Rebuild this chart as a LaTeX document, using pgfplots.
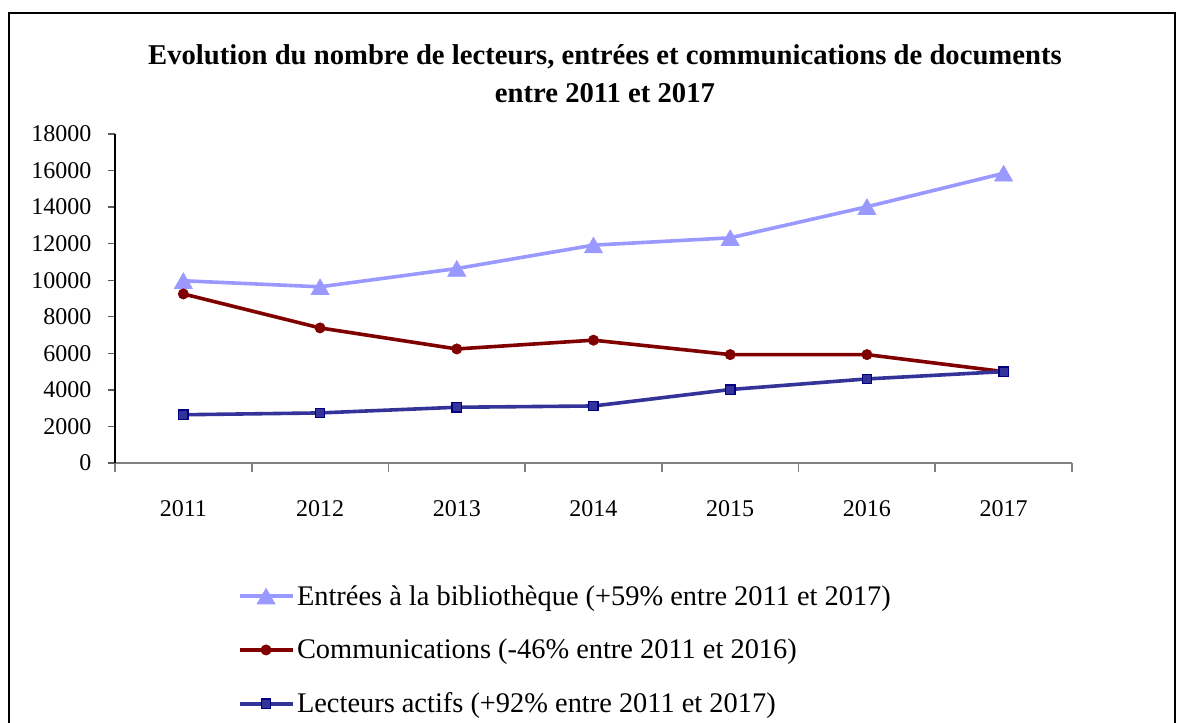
\documentclass[border=0pt]{standalone}
\usepackage{fontspec}
\setmainfont{Liberation Serif}
\usepackage{pgfplots}
\pgfplotsset{compat=1.18}
\definecolor{entrees}{HTML}{9999FF}
\definecolor{comm}{HTML}{800000}
\definecolor{lectline}{HTML}{333399}
\definecolor{lectedge}{HTML}{000080}
\definecolor{axgray}{HTML}{808080}
\begin{document}
\begin{tikzpicture}
\path[use as bounding box] (0pt,0pt) rectangle (889.5pt,541.5pt);
\draw[line width=1.5pt,black] (6.75pt,-2pt) -- (6.75pt,531.75pt) -- (881.25pt,531.75pt) -- (881.25pt,-2pt);
\begin{axis}[
  at={(86.25pt,194.25pt)}, anchor=south west,
  scale only axis, width=717.75pt, height=246.75pt,
  xmin=-0.5, xmax=6.5, ymin=0, ymax=18000,
  axis x line=bottom, axis y line=left,
  x axis line style={-, draw=axgray, line width=1.5pt},
  y axis line style={-, draw=black, line width=1pt},
  xtick={0,...,6},
  xticklabels={2011,2012,2013,2014,2015,2016,2017},
  major x tick style={draw=none},
  minor xtick={-0.5,0.5,...,6.5},
  minor x tick style={draw=axgray, line width=1.2pt},
  minor tick length=7pt,
  ytick={0,2000,...,18000},
  scaled y ticks=false,
  major y tick style={draw=axgray!70!black, line width=1pt},
  major tick length=5.25pt,
  tick align=outside,
  /pgf/number format/assume math mode=true,
  /pgf/number format/set thousands separator={},
  tick label style={font=\fontsize{18}{21}\selectfont, text=black},
  yticklabel style={xshift=-9pt},
  xticklabel style={yshift=-19pt},
  title={Evolution du nombre de lecteurs, entrées et communications de documents\\entre 2011 et 2017},
  title style={at={(0.512,1.16)}, anchor=center, align=center, font=\bfseries\fontsize{21.5}{28.5}\selectfont},
  legend style={at={(0.128,-0.363)}, anchor=north west, draw=none, fill=none,
    font=\fontsize{21.3}{24}\selectfont, row sep=20pt, inner sep=0pt, nodes={inner sep=2pt}},
  legend cell align=left,
  legend image code/.code={\draw[mark repeat=2,mark phase=2] plot coordinates {(0pt,0pt) (19.875pt,0pt) (39.75pt,0pt)};},
  clip=false,
]
\addplot[color=entrees, line width=2.7pt, mark=triangle*, mark size=7.8pt,
  mark options={fill=entrees, draw=entrees, line width=0.5pt, yshift=-1.9pt}]
  coordinates {(0,9970) (1,9640) (2,10640) (3,11920) (4,12320) (5,14020) (6,15850)};
\addlegendentry{Entrées à la bibliothèque (+59\% entre 2011 et 2017)}
\addplot[color=comm, line width=2.7pt, mark=*, mark size=3.9pt,
  mark options={fill=comm, draw=comm, line width=0.4pt}]
  coordinates {(0,9250) (1,7390) (2,6240) (3,6720) (4,5930) (5,5930) (6,5000)};
\addlegendentry{Communications (-46\% entre 2011 et 2016)}
\addplot[color=lectline, line width=2.7pt, mark=square*, mark size=3.5pt,
  mark options={fill=lectline, draw=lectedge, line width=1pt}]
  coordinates {(0,2640) (1,2740) (2,3050) (3,3120) (4,4020) (5,4600) (6,5000)};
\addlegendentry{Lecteurs actifs (+92\% entre 2011 et 2017)}
\end{axis}
\end{tikzpicture}
\end{document}
